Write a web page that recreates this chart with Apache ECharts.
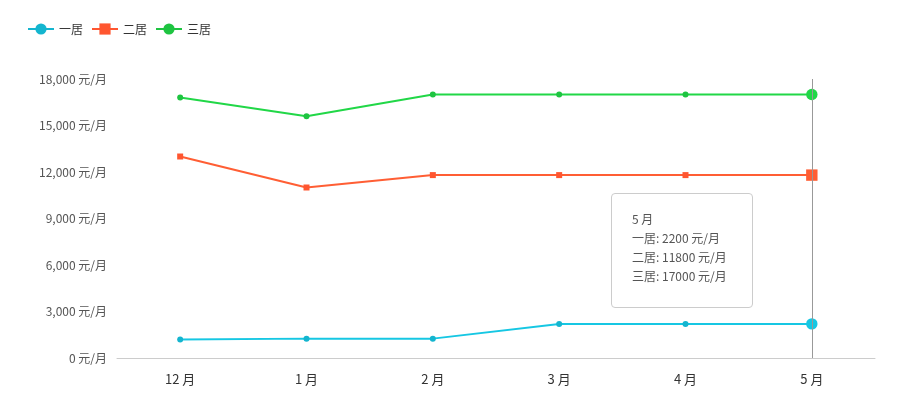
<!DOCTYPE html>
<html>
<head>
    <meta charset="utf-8"/>
    <title>租金走势</title>
    <script type="text/javascript" src="https://cdn.jsdelivr.net/npm/echarts@6/dist/echarts.min.js"></script>
    <style>
        html, body { margin: 0; padding: 0; background: #fff; }
        #main { width: 898px; height: 412px; }
    </style>
</head>
<body>
<div id="main"></div>
<script type="text/javascript">
    // 月份
    var months = ['12 月', '1 月', '2 月', '3 月', '4 月', '5 月'];
    // 租金 元/月
    var yiju = [1200, 1250, 1250, 2200, 2200, 2200];
    var erju = [13000, 11000, 11800, 11800, 11800, 11800];
    var sanju = [16800, 15600, 17000, 17000, 17000, 17000];

    function comma(v) {
        return String(v).replace(/\B(?=(\d{3})+(?!\d))/g, ',');
    }

    var myChart = echarts.init(document.getElementById('main'));
    var option = {
        animation: false,
        color: ['#14b5cf', '#ff5630', '#1ec441'],
        textStyle: { fontFamily: 'Noto Sans CJK SC, sans-serif' },
        legend: {
            left: 22,
            top: 18,
            itemGap: 8,
            itemWidth: 26,
            textStyle: { color: '#333', fontSize: 12 },
            data: ['一居', '二居', '三居']
        },
        tooltip: {
            trigger: 'axis',
            alwaysShowContent: true,
            position: [611, 193],
            backgroundColor: '#fff',
            borderColor: '#ccc',
            borderWidth: 1,
            padding: [15, 20, 19, 20],
            extraCssText: 'box-shadow:none;border-radius:4px;width:100px;height:79px;line-height:19px;',
            textStyle: { color: '#555', fontSize: 12 },
            axisPointer: {
                type: 'line',
                lineStyle: { color: '#999', width: 1, type: 'solid' }
            },
            formatter: function (params) {
                var s = params[0].axisValue;
                for (var i = 0; i < params.length; i++) {
                    s += '<br/>' + params[i].seriesName + ': ' + params[i].value + ' 元/月';
                }
                return s;
            }
        },
        grid: { left: 117, right: 23, top: 79, bottom: 54 },
        xAxis: {
            type: 'category',
            boundaryGap: true,
            data: months,
            axisLine: { lineStyle: { color: '#ccc' } },
            axisTick: { show: false },
            axisLabel: { color: '#333', fontSize: 13, margin: 15 }
        },
        yAxis: {
            type: 'value',
            min: 0,
            max: 18000,
            interval: 3000,
            axisLine: { show: false },
            axisTick: { show: false },
            splitLine: { show: false },
            axisLabel: {
                color: '#555',
                fontSize: 12,
                margin: 10,
                formatter: function (v) { return comma(v) + ' 元/月'; }
            }
        },
        series: [
            {
                name: '一居', type: 'line', symbol: 'circle', symbolSize: 6,
                lineStyle: { width: 2 }, emphasis: { scale: 1.9 },
                data: yiju
            },
            {
                name: '二居', type: 'line', symbol: 'rect', symbolSize: 6,
                lineStyle: { width: 2 }, emphasis: { scale: 1.9 },
                data: erju
            },
            {
                name: '三居', type: 'line', symbol: 'circle', symbolSize: 6,
                lineStyle: { width: 2 }, emphasis: { scale: 1.9 },
                data: sanju
            }
        ]
    };
    myChart.setOption(option);
    myChart.dispatchAction({ type: 'showTip', seriesIndex: 0, dataIndex: 5 });
</script>
</body>
</html>
